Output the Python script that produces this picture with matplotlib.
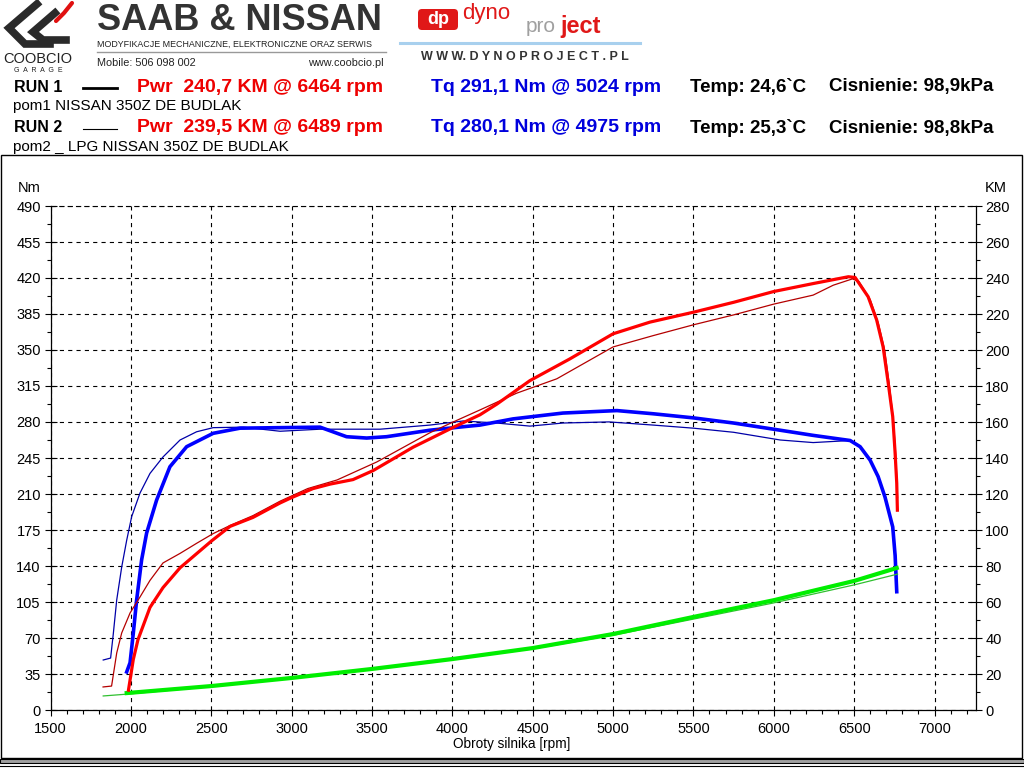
import numpy as np
import matplotlib
matplotlib.use('Agg')
import matplotlib.pyplot as plt
from matplotlib.patches import Rectangle, FancyBboxPatch

plt.rcParams['font.family'] = ['Liberation Sans', 'DejaVu Sans']
plt.rcParams['lines.scale_dashes'] = False

# RUN 1 (thick lines)
rpm_pwr1 = [1985, 2015, 2044, 2119, 2200, 2306, 2411, 2503, 2617, 2760, 2928, 3000,
            3133, 3240, 3382, 3507, 3756, 4005, 4172, 4278, 4483, 4730, 5000, 5230,
            5500, 5750, 6000, 6250, 6464, 6506, 6587, 6640, 6680, 6712, 6740, 6754,
            6765, 6769]
pwr1 = [11, 28, 39, 57, 68, 79, 87, 94, 102, 107, 115, 118,
        123, 125.5, 128, 133, 146, 157, 164, 170, 183, 195, 209, 215.5,
        221, 226.5, 232.5, 237, 240.7, 240.3, 229.6, 216.7, 201.8, 181.6, 163, 144,
        126, 111]

rpm_tq1 = [1974, 1995, 2015, 2036, 2067, 2098, 2160, 2243, 2347, 2512, 2679, 2928,
           3177, 3342, 3467, 3591, 3860, 4067, 4172, 4377, 4688, 5024, 5250, 5500,
           5750, 6040, 6245, 6475, 6537, 6599, 6649, 6692, 6740, 6755, 6765]
tq1 = [37, 46, 74.5, 107, 146, 172, 204, 236.5, 256, 269, 274, 274.5,
       275, 265.7, 264.4, 265.7, 272, 275.4, 277, 283, 288.7, 291.1, 288, 284,
       279, 272, 267, 262, 256, 243, 227, 207, 178, 150, 115]

rpm_loss1 = [1974, 2500, 3000, 3500, 4000, 4500, 5000, 5500, 6000, 6500, 6765]
loss1 = [9.4, 13.3, 17.8, 22.8, 28.3, 34.4, 42.2, 51.7, 61, 71.7, 78.9]

# RUN 2 (thin lines)
rpm_pwr2 = [1827, 1880, 1912, 1943, 1995, 2057, 2119, 2200, 2306, 2409, 2512, 2617,
            2760, 2928, 3100, 3283, 3530, 3860, 4005, 4172, 4400, 4650, 5000, 5250,
            5500, 5750, 6000, 6245, 6370, 6489, 6530, 6600, 6650, 6690, 6720, 6745,
            6760, 6770]
pwr2 = [12.8, 13.3, 31.7, 42.8, 53.9, 62.8, 72, 81.7, 87, 92.6, 98, 102.5,
        108, 116, 123, 127.8, 137.8, 154, 160, 166.7, 176, 184, 201.7, 208,
        214, 219.5, 225.5, 230.5, 236, 239.5, 238, 228, 215, 200, 180, 160,
        140, 118]

rpm_tq2 = [1828, 1874, 1891, 1912, 1943, 1974, 2005, 2057, 2119, 2200, 2306, 2409,
           2512, 2700, 2928, 3177, 3550, 3860, 4067, 4276, 4483, 4688, 4975, 5250,
           5500, 5750, 6040, 6245, 6475, 6540, 6600, 6650, 6695, 6740, 6758, 6768]
tq2 = [48.6, 50.5, 74.5, 107, 139, 165, 188, 211, 230, 246, 262.5, 270.5,
       274.5, 275, 271, 273, 273, 277, 281, 279, 276, 279, 280.1, 277,
       274, 270, 262.5, 260, 262, 256, 243, 227, 207, 178, 150, 118]

rpm_loss2 = [1828, 1974, 2500, 3000, 3500, 4000, 4500, 5000, 5500, 6000, 6500, 6770]
loss2 = [7.8, 8.8, 13, 17.5, 22.5, 28, 34, 41.5, 50.5, 59.5, 69.5, 75.5]

rpm_ticks = list(range(1500, 7001, 500))
nm_ticks = list(range(0, 491, 35))
km_ticks = list(range(0, 281, 20))

header_rows = [
    ('RUN 1', 'Pwr  240,7 KM @ 6464 rpm', 'Tq 291,1 Nm @ 5024 rpm',
     'Temp: 24,6`C', 'Cisnienie: 98,9kPa', 'pom1 NISSAN 350Z DE BUDLAK'),
    ('RUN 2', 'Pwr  239,5 KM @ 6489 rpm', 'Tq 280,1 Nm @ 4975 rpm',
     'Temp: 25,3`C', 'Cisnienie: 98,8kPa', 'pom2 _ LPG NISSAN 350Z DE BUDLAK'),
]


def draw_header(bg):
    # coobcio logo
    bg.plot([37, 9, 25, 50], [4, 28, 44, 44], color='#2a2a2a', lw=5.5, solid_joinstyle='miter')
    bg.plot([55, 33, 43, 66], [13, 32, 40, 40], color='#2a2a2a', lw=5.5, solid_joinstyle='miter')
    bg.plot([72, 64, 56], [3, 13, 21], color='#e01010', lw=3, solid_capstyle='round')
    bg.text(38, 59, 'COOBCIO', fontsize=10.5, color='#222222', ha='center', va='center')
    bg.text(38, 70, 'G  A  R  A  G  E', fontsize=5, color='#222222', ha='center', va='center')

    bg.text(97, 21, 'SAAB & NISSAN', fontsize=26, fontweight='bold', color='#333333',
            ha='left', va='center')
    bg.text(97, 44.5, 'MODYFIKACJE MECHANICZNE, ELEKTRONICZNE ORAZ SERWIS', fontsize=6.4,
            color='#222222', ha='left', va='center')
    bg.plot([97, 386], [52, 52], color='#999999', lw=1)
    bg.text(97, 63, 'Mobile: 506 098 002', fontsize=7.8, color='#222222', ha='left', va='center')
    bg.text(384, 63, 'www.coobcio.pl', fontsize=7.8, color='#222222', ha='right', va='center')

    # dynoproject logo
    bg.add_patch(FancyBboxPatch((418, 9), 40, 21, boxstyle='round,pad=0,rounding_size=4',
                                fc='#e01818', ec='none'))
    bg.text(438, 19.5, 'dp', fontsize=13, fontweight='bold', color='white', ha='center', va='center')
    bg.text(462, 14, 'dyno', fontsize=16, color='#e01818', ha='left', va='center')
    bg.text(526, 27, 'pro', fontsize=15, color='#a0a0a0', ha='left', va='center')
    bg.text(560, 27, 'ject', fontsize=17, fontweight='bold', color='#e01818', ha='left', va='center')
    bg.plot([400, 640], [43, 43], color='#a8d0ee', lw=2.2)
    bg.text(525, 56.5, 'W W W. D Y N O P R O J E C T . P L', fontsize=9, fontweight='bold',
            color='#333333', ha='center', va='center')

    for i, (run, pwr, tq, temp, press, desc) in enumerate(header_rows):
        y = 87 + 41 * i
        bg.text(14, y, run, fontsize=11.5, fontweight='bold', ha='left', va='center')
        bg.plot([83, 117], [y + 1, y + 1], color='black', lw=2 if i == 0 else 0.8)
        bg.text(137, y, pwr, fontsize=14, fontweight='bold', color='#ee0000', ha='left', va='center')
        bg.text(431, y, tq, fontsize=14, fontweight='bold', color='#0000dd', ha='left', va='center')
        bg.text(690, y, temp, fontsize=13.5, fontweight='bold', ha='left', va='center')
        bg.text(829, y, press, fontsize=13.5, fontweight='bold', ha='left', va='center')
        bg.text(13, y + 19, desc, fontsize=11, ha='left', va='center')

    # frame around the chart
    bg.add_patch(Rectangle((1, 155), 1021, 603, fc='none', ec='black', lw=1))
    bg.add_patch(Rectangle((0, 759), 1024, 4, fc='#a0a0a0', ec='black', lw=0.8))
    bg.plot([0, 1024], [766, 766], color='black', lw=0.8)

    bg.text(29.5, 188, 'Nm', fontsize=10.5, ha='center', va='center')
    bg.text(996, 188, 'KM', fontsize=10.5, ha='center', va='center')
    bg.text(512, 744, 'Obroty silnika [rpm]', fontsize=9.8, ha='center', va='center')


def main():
    fig = plt.figure(figsize=(10.24, 7.68), dpi=100)
    bg = fig.add_axes([0, 0, 1, 1], zorder=0)
    bg.set_xlim(0, 1024)
    bg.set_ylim(768, 0)
    bg.axis('off')
    draw_header(bg)

    ax = fig.add_axes([50.5 / 1024, 58 / 768, 925 / 1024, 504 / 768], zorder=1)
    ax.set_facecolor('none')
    ax.set_xlim(1500, 7255)
    ax.set_ylim(0, 490)
    ax.set_xticks(rpm_ticks)
    ax.set_xticks(np.arange(1500, 7255, 100), minor=True)
    ax.set_yticks(nm_ticks)
    ax.set_yticks(np.arange(0, 491, 17.5), minor=True)
    ax.grid(True, which='major', color='black', linestyle=(0, (3, 3)), linewidth=0.8)
    ax.set_axisbelow(True)
    ax.tick_params(axis='x', which='major', direction='out', length=4.5, width=0.8,
                   labelsize=10.5, pad=4)
    ax.tick_params(axis='x', which='minor', direction='out', length=3, width=0.8)
    ax.tick_params(axis='y', which='major', direction='inout', length=8, width=0.8,
                   labelsize=10.5, pad=3)
    ax.tick_params(axis='y', which='minor', direction='out', length=3, width=0.8)
    ax.spines['top'].set_linestyle((0, (3, 3)))
    ax.spines['top'].set_linewidth(0.8)
    ax.spines['right'].set_visible(False)
    for s in ('left', 'bottom'):
        ax.spines[s].set_linewidth(0.9)

    ax.plot(rpm_tq2, tq2, color='#0000a8', lw=0.9)
    ax.plot(rpm_tq1, tq1, color='#0000ff', lw=2.6)

    ax2 = ax.twinx()
    ax2.set_ylim(0, 280)
    ax2.set_yticks(km_ticks)
    ax2.set_yticks(np.arange(0, 281, 10), minor=True)
    ax2.tick_params(axis='y', which='major', direction='inout', length=8, width=0.8,
                    labelsize=10.5, pad=3)
    ax2.tick_params(axis='y', which='minor', direction='out', length=3, width=0.8)
    ax2.spines['top'].set_visible(False)
    ax2.spines['left'].set_visible(False)
    ax2.spines['bottom'].set_visible(False)
    ax2.spines['right'].set_linewidth(0.9)

    ax2.plot(rpm_loss2, loss2, color='#30c030', lw=0.9)
    ax2.plot(rpm_loss1, loss1, color='#00ee00', lw=3)
    ax2.plot(rpm_pwr2, pwr2, color='#b40000', lw=0.9)
    ax2.plot(rpm_pwr1, pwr1, color='#ff0000', lw=2.3)

    fig.savefig('out.png', dpi=100)


if __name__ == '__main__':
    main()
